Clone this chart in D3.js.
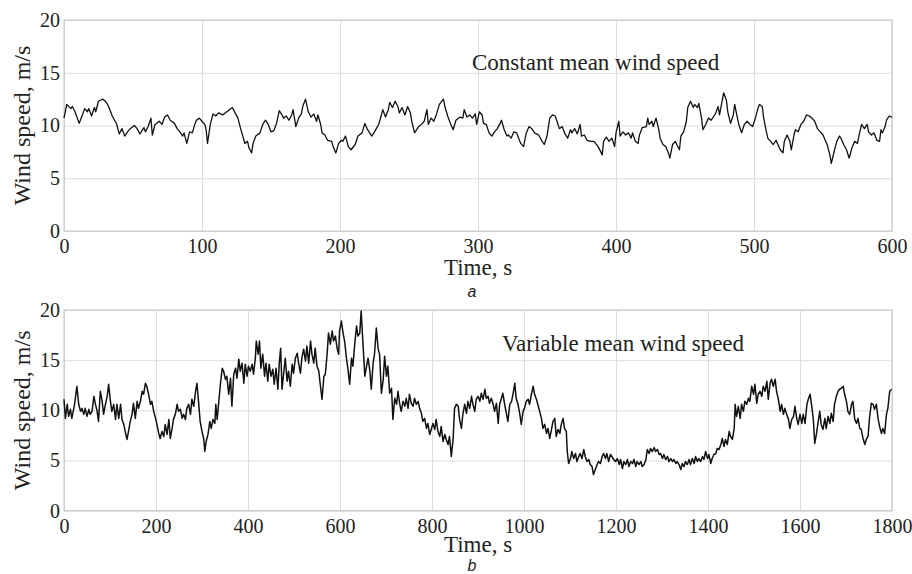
<!DOCTYPE html>
<html>
<head>
<meta charset="utf-8">
<script src="https://cdn.jsdelivr.net/npm/d3@7"></script>
<style>
  body { margin: 0; background: #fff; }
  svg { display: block; }
</style>
</head>
<body>
<svg id="chart" width="912" height="574"></svg>
<script>
// values
const timeA = [0,2,5,6,8,11,13,15,17,18,20,22,23,25,28,30,32,35,37,38,40,42,44,46,48,51,53,55,58,59,61,63,64,66,69,71,73,75,77,80,82,84,86,87,89,91,93,95,96,98,100,102,103,104,106,108,110,112,115,117,119,122,124,126,128,130,131,133,134,136,137,139,142,144,146,148,150,152,154,156,158,159,161,163,165,166,168,170,172,173,175,177,179,181,183,184,186,187,189,191,194,195,197,199,201,
  202,204,206,208,211,213,216,218,220,223,225,228,230,231,233,235,236,238,240,242,243,245,247,249,251,252,254,257,259,261,263,264,266,268,270,272,275,276,278,280,282,284,287,289,290,292,294,296,298,299,301,303,304,306,308,310,312,314,316,317,319,321,322,324,326,328,330,331,333,335,337,339,341,344,346,348,350,352,354,356,358,359,361,363,365,367,368,370,372,374,375,377,379,382,384,387,389,390,391,393,395,397,399,
  400,402,403,405,407,409,411,412,414,416,417,419,422,423,424,426,427,429,431,432,434,436,438,439,441,443,444,446,447,449,451,452,454,456,457,459,460,462,463,465,467,469,471,472,474,475,477,478,480,481,483,485,486,488,489,491,493,495,497,499,501,503,504,506,507,509,510,512,514,516,517,519,521,522,524,526,527,529,530,532,534,536,538,540,542,544,546,548,550,551,553,555,556,558,560,562,563,565,567,569,571,573,575,576,578,580,582,583,585,587,589,591,592,593,595,596,598,600]
const speedA = [10.7,12.0,11.6,11.8,11.3,10.2,10.9,11.6,11.3,11.6,10.9,11.7,11.3,12.3,12.5,12.3,11.9,10.9,10.4,10.2,9.2,9.7,9.0,9.4,9.7,10.0,9.7,9.2,9.8,9.4,9.9,10.7,9.1,10.1,10.4,10.1,10.8,11.0,10.5,10.2,9.7,9.4,9.0,9.3,8.3,9.4,9.3,10.2,10.5,10.7,10.4,10.1,9.6,8.3,10.1,11.1,10.9,11.2,11.0,11.2,11.4,11.7,11.2,10.7,9.7,8.8,8.3,8.5,7.9,7.4,8.3,9.0,9.3,10.1,10.5,10.1,9.4,9.5,10.2,11.4,11.0,10.7,10.9,10.5,11.0,11.5,9.9,10.7,11.1,11.8,12.5,11.3,10.8,11.1,10.4,11.0,10.1,9.3,9.1,8.6,8.5,8.0,7.4,8.3,8.6,
  8.5,9.0,8.0,7.7,8.2,9.0,9.3,10.2,9.6,9.0,9.4,10.1,11.0,11.5,10.8,11.5,12.2,11.7,12.3,11.8,11.2,11.7,11.0,11.8,11.2,10.4,9.3,9.9,10.1,10.4,11.5,10.1,10.7,10.4,11.1,12.0,12.5,11.8,10.9,10.2,9.6,10.5,10.8,10.7,11.5,10.8,11.0,10.7,11.1,10.1,11.3,11.0,10.2,10.1,9.3,9.0,9.4,9.7,10.2,10.5,9.6,9.0,9.1,8.8,9.4,9.3,8.6,8.3,8.0,9.3,9.9,9.7,9.3,9.1,8.6,8.2,9.0,10.7,11.0,10.9,10.1,9.7,9.9,9.2,8.8,9.6,9.3,9.7,9.2,10.1,9.0,9.1,8.6,8.5,8.5,8.0,7.5,7.2,8.5,8.9,8.5,8.8,8.0,
  9.3,10.4,9.0,9.4,9.1,9.3,8.8,9.3,8.5,8.3,9.1,9.8,9.9,10.7,10.1,10.4,9.9,10.7,9.6,8.8,8.2,8.0,7.4,6.9,8.2,8.5,8.2,7.7,9.0,9.4,10.4,11.7,12.3,11.7,12.0,11.7,12.1,10.7,9.6,10.1,10.7,10.5,10.9,11.1,11.8,11.0,12.4,13.1,12.4,11.3,10.2,11.0,12.0,10.7,10.1,9.3,10.1,10.4,10.1,9.9,10.7,11.7,12.0,11.8,10.7,9.4,8.8,8.5,8.2,8.6,8.3,7.7,7.4,8.5,9.1,8.5,7.7,9.1,9.6,9.4,10.1,10.4,11.0,10.9,10.7,10.4,9.7,9.4,9.1,8.8,8.2,7.2,6.4,7.5,8.5,9.0,8.8,8.2,7.7,6.9,7.9,8.5,8.3,9.0,10.1,9.7,10.1,9.4,9.1,9.3,8.6,8.5,9.6,9.3,9.9,10.5,10.9,10.8]

const timeB = [0,3,7,10,14,17,23,28,32,36,39,43,46,50,54,57,61,65,68,72,75,79,83,86,90,94,97,101,104,108,112,115,119,123,126,130,133,137,141,144,148,151,155,159,162,166,170,173,177,180,184,188,191,195,199,202,206,209,213,217,220,224,228,231,235,238,242,246,249,253,257,260,264,267,271,275,278,282,286,289,293,296,300,304,306,309,313,317,320,324,328,330,333,336,340,344,347,351,354,358,362,365,369,373,376,380,383,387,391,394,398,401,405,409,412,416,418,422,425,428,432,436,439,443,446,450,454,457,461,465,468,471,474,478,481,485,488,492,496,499,503,507,510,514,517,521,525,528,532,536,539,543,546,550,554,557,561,565,568,572,575,579,583,586,590,594,597,
  599,603,607,610,614,617,621,625,628,632,636,639,643,646,650,654,657,661,665,668,672,675,679,683,686,690,694,697,701,704,708,712,715,719,723,726,730,733,737,741,744,748,751,755,759,762,766,770,773,777,780,784,788,791,795,799,802,806,809,813,817,820,824,828,831,835,838,842,846,849,853,857,860,864,867,871,875,878,882,886,889,893,896,900,904,907,911,915,918,922,925,929,933,936,940,944,947,951,954,958,962,965,969,973,976,980,983,987,991,994,998,1001,1005,1009,1012,1016,1020,1023,1027,1030,1034,1038,1041,1045,1049,1052,1056,1059,1063,1067,1070,1074,1078,1081,1085,1088,1092,1094,1097,1101,1104,1108,1112,1115,1119,1122,1126,1130,1133,1137,1141,1144,1148,1151,1155,1159,1162,1166,1170,1173,1177,1180,1184,1188,1191,1195,
  1199,1203,1207,1210,1214,1217,1221,1225,1228,1232,1236,1239,1243,1246,1250,1254,1257,1261,1265,1268,1272,1275,1279,1283,1286,1290,1294,1297,1301,1304,1308,1312,1315,1319,1323,1326,1330,1333,1337,1341,1344,1348,1351,1355,1359,1362,1366,1370,1373,1377,1380,1384,1388,1391,1395,1399,1402,1406,1409,1413,1417,1420,1424,1428,1431,1435,1438,1442,1446,1449,1453,1457,1459,1462,1466,1470,1473,1477,1480,1484,1488,1491,1495,1499,1502,1506,1509,1513,1517,1520,1524,1528,1531,1535,1538,1542,1546,1549,1553,1557,1560,1564,1567,1571,1575,1578,1582,1586,1589,1593,1596,1600,1604,1607,1611,1615,1618,1622,1625,1629,1632,1636,1639,1643,1646,1650,1654,1657,1661,1665,1668,1672,1675,1679,1683,1686,1690,1694,1697,1701,1704,1708,1712,1715,1719,1723,1726,1730,1733,1737,1741,1744,1748,1751,1755,1759,1762,1766,1770,1773,1777,1780,1784,1788,1791,1795,1799]
const speedB = [11.1,9.2,10.6,9.4,10.1,9.2,10.6,12.4,10.6,9.9,10.2,9.6,10.2,9.4,10.1,9.6,9.9,11.4,10.7,9.9,8.9,11.9,10.9,9.6,10.6,11.4,12.6,10.9,9.9,10.6,9.1,10.6,9.2,10.6,9.1,8.6,7.9,7.1,8.1,8.9,9.6,10.7,9.2,10.9,10.2,10.9,11.9,11.6,12.7,12.4,11.6,10.6,10.9,9.9,9.2,8.6,7.7,7.2,7.9,7.4,8.6,7.6,9.1,7.2,8.2,9.1,9.6,10.6,9.9,10.1,9.2,9.6,9.1,10.2,10.6,9.6,11.1,10.4,11.9,12.7,10.6,8.9,7.9,7.1,5.9,6.9,7.6,8.9,8.2,9.1,8.7,10.6,9.1,10.6,12.6,14.2,13.9,13.1,13.4,11.6,13.2,10.4,13.6,14.2,13.2,15.1,13.9,14.7,12.7,14.6,13.4,14.4,13.9,14.6,13.6,15.2,16.9,15.6,16.9,14.2,15.6,13.4,14.7,12.9,14.6,13.4,14.1,12.6,14.2,12.1,14.7,16.2,12.1,13.9,15.2,12.9,13.9,12.4,14.6,13.7,15.2,15.7,14.7,13.7,15.2,16.1,14.9,16.4,14.7,16.9,15.6,14.7,16.2,14.4,13.9,12.6,11.1,13.4,13.6,15.6,17.7,16.6,17.9,16.9,17.4,16.1,15.6,
  17.9,18.9,17.6,16.9,15.2,14.2,12.6,15.2,14.4,16.6,18.4,17.4,17.7,19.9,16.6,13.4,14.2,15.2,13.9,12.1,14.7,15.6,18.2,16.1,15.6,11.7,13.1,15.4,13.4,14.4,11.7,12.2,9.1,11.2,10.6,11.9,10.6,9.9,10.9,10.4,11.2,10.2,11.6,10.7,10.4,11.2,10.6,10.9,10.2,9.7,8.9,9.2,8.2,8.7,7.6,8.2,8.7,8.1,9.1,7.9,7.4,8.4,6.9,7.6,7.1,6.6,7.4,5.4,7.2,10.2,10.6,10.4,9.1,8.2,9.6,10.6,9.7,10.9,10.2,11.4,10.6,9.9,11.1,11.4,10.9,11.7,11.1,12.1,11.2,11.4,10.7,11.2,10.6,9.9,10.7,8.7,10.6,11.2,11.7,10.6,9.6,8.9,10.6,10.9,11.6,12.7,11.2,10.6,9.6,8.6,9.9,10.2,10.9,11.1,10.6,11.6,12.4,11.6,11.1,10.6,9.9,9.2,8.2,8.6,7.7,8.2,7.2,7.9,8.9,9.2,7.4,8.1,7.7,8.6,9.2,8.2,7.9,5.9,4.7,5.2,5.9,5.2,5.7,4.9,5.4,5.7,5.2,6.1,5.4,4.9,5.1,4.6,4.4,3.6,4.1,4.6,4.9,4.7,5.4,5.7,5.2,5.7,4.9,5.6,5.4,5.1,
  4.9,5.2,4.6,5.1,4.2,4.9,4.6,5.1,4.4,4.9,4.7,5.1,4.4,4.9,4.6,4.9,4.4,4.6,5.1,6.1,5.7,6.2,5.9,6.3,5.9,6.1,5.6,5.7,5.2,5.6,5.1,5.4,4.9,5.2,4.9,5.1,4.7,4.9,4.6,4.1,4.7,4.4,4.9,4.6,5.1,4.6,5.2,4.7,5.4,4.9,5.2,4.9,5.4,5.1,5.9,5.2,5.6,4.7,5.2,5.6,5.7,6.2,6.1,6.6,7.2,6.4,7.1,6.6,7.9,7.4,7.1,8.2,10.6,9.4,10.4,9.2,10.6,9.9,10.9,10.6,11.2,10.9,12.4,11.6,12.6,10.7,11.6,11.9,11.4,12.4,11.9,12.9,11.1,12.7,13.1,12.4,13.1,11.9,11.1,9.9,10.6,9.6,10.2,9.6,9.1,8.2,9.1,9.4,10.4,9.2,8.6,9.6,8.7,9.6,8.7,10.6,11.1,11.6,10.6,9.1,6.7,7.7,8.7,9.9,8.6,8.1,9.2,8.2,9.4,8.7,9.7,8.9,10.6,11.4,11.9,12.1,12.2,12.4,11.6,10.9,9.9,9.6,10.6,10.9,9.1,8.7,9.2,8.2,8.1,7.2,6.6,7.1,7.4,9.2,10.7,10.6,10.1,10.6,9.1,8.4,7.7,8.2,7.7,9.6,10.2,11.9,12.1]

const xTicksA = [0, 100, 200, 300, 400, 500, 600]
const xTicksB = [0, 200, 400, 600, 800, 1000, 1200, 1400, 1600, 1800]
const yTicks = [0, 5, 10, 15, 20]

const serif = '"Liberation Serif", "Times New Roman", serif'
const svg = d3.select('#chart')
const left = 64, right = 892

const panels = [
  { times: timeA, speeds: speedA, xMax: 600, xTicks: xTicksA, top: 20, bottom: 231, width: 1.3,
    title: 'Constant mean wind speed', titleX: 472, titleY: 70, tag: 'a', tagY: 297, labelY: 275 },
  { times: timeB, speeds: speedB, xMax: 1800, xTicks: xTicksB, top: 310, bottom: 510.7, width: 1.5,
    title: 'Variable mean wind speed', titleX: 502, titleY: 351, tag: 'b', tagY: 571, labelY: 552 }
]

/**
 * Draws one panel: grid, box, ticks, trace and texts
 */
function drawPanel (p) {
  const h = p.bottom - p.top
  const w = right - left
  const x = d3.scaleLinear().domain([0, p.xMax]).range([left, right])
  const y = d3.scaleLinear().domain([0, 20]).range([p.bottom, p.top])

  const g = svg.append('g')

  // grid lines double as tick marks, labels come with them
  const gx = g.append('g')
    .attr('transform', 'translate(0,' + p.bottom + ')')
    .call(d3.axisBottom(x).tickValues(p.xTicks).tickFormat(d3.format('d'))
      .tickSizeInner(-h).tickSizeOuter(0).tickPadding(8))
  const gy = g.append('g')
    .attr('transform', 'translate(' + left + ',0)')
    .call(d3.axisLeft(y).tickValues(yTicks).tickFormat(d3.format('d'))
      .tickSizeInner(-w).tickSizeOuter(0).tickPadding(4))

  for (const a of [gx, gy]) {
    a.attr('font-family', serif).attr('font-size', 20)
    a.select('.domain').remove()
    a.selectAll('line').attr('stroke', '#dcdcdc').attr('stroke-width', 1)
    a.selectAll('text').attr('fill', '#222')
  }

  g.append('rect')
    .attr('x', left).attr('y', p.top)
    .attr('width', w).attr('height', h)
    .attr('fill', 'none')
    .attr('stroke', '#c4c4c4')
    .attr('stroke-width', 1)

  const line = d3.line()
    .x(function (d, i) { return x(p.times[i]) })
    .y(function (d) { return y(d) })

  g.append('path')
    .datum(p.speeds)
    .attr('d', line)
    .attr('fill', 'none')
    .attr('stroke', '#111')
    .attr('stroke-width', p.width)
    .attr('stroke-linejoin', 'round')

  g.append('text')
    .attr('x', p.titleX).attr('y', p.titleY)
    .attr('font-family', serif).attr('font-size', 23)
    .attr('fill', '#222')
    .text(p.title)

  g.append('text')
    .attr('transform', 'translate(30,' + (p.top + p.bottom) / 2 + ') rotate(-90)')
    .attr('text-anchor', 'middle')
    .attr('font-family', serif).attr('font-size', 24)
    .attr('fill', '#222')
    .text('Wind speed, m/s')

  g.append('text')
    .attr('x', (left + right) / 2).attr('y', p.labelY)
    .attr('text-anchor', 'middle')
    .attr('font-family', serif).attr('font-size', 23)
    .attr('fill', '#222')
    .text('Time, s')

  g.append('text')
    .attr('x', 472).attr('y', p.tagY)
    .attr('text-anchor', 'middle')
    .attr('font-family', '"Liberation Sans", Arial, sans-serif')
    .attr('font-size', 16).attr('font-style', 'italic')
    .attr('fill', '#222')
    .text(p.tag)
}

panels.forEach(drawPanel)
</script>
</body>
</html>
